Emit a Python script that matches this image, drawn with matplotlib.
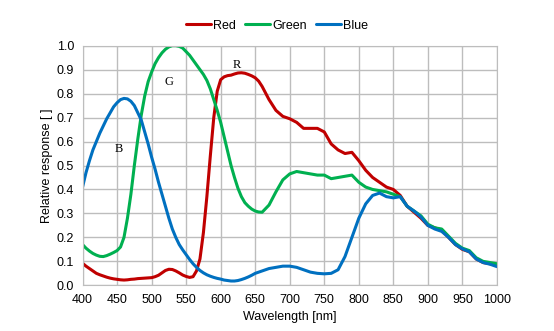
import matplotlib
matplotlib.use("Agg")
import matplotlib.pyplot as plt

plt.rcParams['font.family'] = ['Liberation Sans', 'DejaVu Sans']

# Spectral response: 5 nm steps up to 655 nm, 10 nm steps after that
wavelength = list(range(400, 660, 5)) + list(range(660, 1001, 10))

red = [0.092, 0.08, 0.07, 0.06, 0.05, 0.044, 0.039, 0.034, 0.03, 0.027,
       0.025, 0.023, 0.022, 0.023, 0.025, 0.026, 0.028, 0.029, 0.03, 0.031,
       0.032, 0.036, 0.042, 0.052, 0.062, 0.067, 0.066, 0.06, 0.052, 0.043,
       0.037, 0.033, 0.036, 0.06, 0.11, 0.22, 0.37, 0.54, 0.70, 0.81,
       0.858, 0.87, 0.875, 0.877, 0.882, 0.886, 0.887, 0.885, 0.88, 0.874,
       0.866, 0.852,
       0.83, 0.775, 0.73, 0.705, 0.695, 0.68, 0.655, 0.655, 0.655, 0.64,
       0.59, 0.565, 0.55, 0.555, 0.52, 0.48, 0.45, 0.43, 0.41, 0.40,
       0.375, 0.33, 0.305, 0.28, 0.25, 0.24, 0.23, 0.20, 0.17, 0.15,
       0.14, 0.11, 0.095, 0.09, 0.085]

green = [0.17, 0.155, 0.143, 0.133, 0.126, 0.121, 0.12, 0.124, 0.13, 0.137,
         0.145, 0.16, 0.2, 0.28, 0.38, 0.50, 0.61, 0.71, 0.79, 0.85,
         0.89, 0.925, 0.95, 0.97, 0.985, 0.995, 1.0, 1.0, 0.997, 0.99,
         0.975, 0.96, 0.94, 0.92, 0.9, 0.88, 0.855, 0.82, 0.775, 0.73,
         0.68, 0.62, 0.56, 0.5, 0.45, 0.405, 0.37, 0.345, 0.33, 0.318,
         0.31, 0.306,
         0.305, 0.335, 0.39, 0.44, 0.465, 0.475, 0.47, 0.465, 0.46, 0.46,
         0.445, 0.45, 0.455, 0.46, 0.43, 0.41, 0.40, 0.395, 0.39, 0.38,
         0.37, 0.33, 0.31, 0.29, 0.255, 0.24, 0.235, 0.205, 0.175, 0.155,
         0.145, 0.115, 0.10, 0.095, 0.09]

blue = [0.41, 0.47, 0.52, 0.565, 0.60, 0.635, 0.665, 0.695, 0.72, 0.745,
        0.762, 0.775, 0.78, 0.778, 0.768, 0.75, 0.72, 0.69, 0.64, 0.59,
        0.535, 0.485, 0.43, 0.38, 0.33, 0.28, 0.235, 0.2, 0.17, 0.148,
        0.128, 0.108, 0.09, 0.075, 0.062, 0.052, 0.044, 0.038, 0.033, 0.029,
        0.026, 0.022, 0.02, 0.018, 0.018, 0.02, 0.024, 0.029, 0.035, 0.042,
        0.05, 0.055,
        0.06, 0.07, 0.075, 0.08, 0.08, 0.075, 0.065, 0.055, 0.05, 0.048,
        0.05, 0.065, 0.12, 0.20, 0.28, 0.34, 0.375, 0.385, 0.37, 0.365,
        0.37, 0.33, 0.31, 0.285, 0.25, 0.235, 0.225, 0.20, 0.17, 0.152,
        0.14, 0.11, 0.095, 0.088, 0.078]

fig = plt.figure(figsize=(5.54, 3.31), dpi=100)
ax = fig.add_axes([0.149, 0.138, 0.748, 0.724])

line_kw = dict(lw=2.2, solid_joinstyle='round', solid_capstyle='round')
ax.plot(wavelength, red, color='#C00000', label='Red', **line_kw)
ax.plot(wavelength, green, color='#00B050', label='Green', **line_kw)
ax.plot(wavelength, blue, color='#0070C0', label='Blue', **line_kw)

ax.set_xlim(400, 1000)
ax.set_ylim(0, 1.0)
ax.set_xticks(range(400, 1001, 50))
ax.set_yticks([i / 10 for i in range(11)])
ax.set_yticklabels([f'{i / 10:.1f}' for i in range(11)])
ax.tick_params(length=0, labelsize=9, pad=6)
ax.grid(True, color='#BDBDBD', lw=1)
ax.set_axisbelow(True)
for s in ax.spines.values():
    s.set_color('#BDBDBD')

ax.set_xlabel('Wavelength [nm]', fontsize=9, labelpad=4)
ax.set_ylabel('Relative response [ ]', fontsize=9, labelpad=3)

# curve markers
for txt, x, y in [('R', 623, 0.92), ('G', 525, 0.85), ('B', 453, 0.57)]:
    ax.text(x, y, txt, family='Liberation Serif', fontsize=9,
            ha='center', va='center')

fig.legend(loc='upper center', bbox_to_anchor=(0.5, 0.975), ncol=3,
           frameon=False, fontsize=9, handlelength=2.0, handletextpad=0.2,
           columnspacing=0.7)

fig.savefig('out.png', dpi=100)
